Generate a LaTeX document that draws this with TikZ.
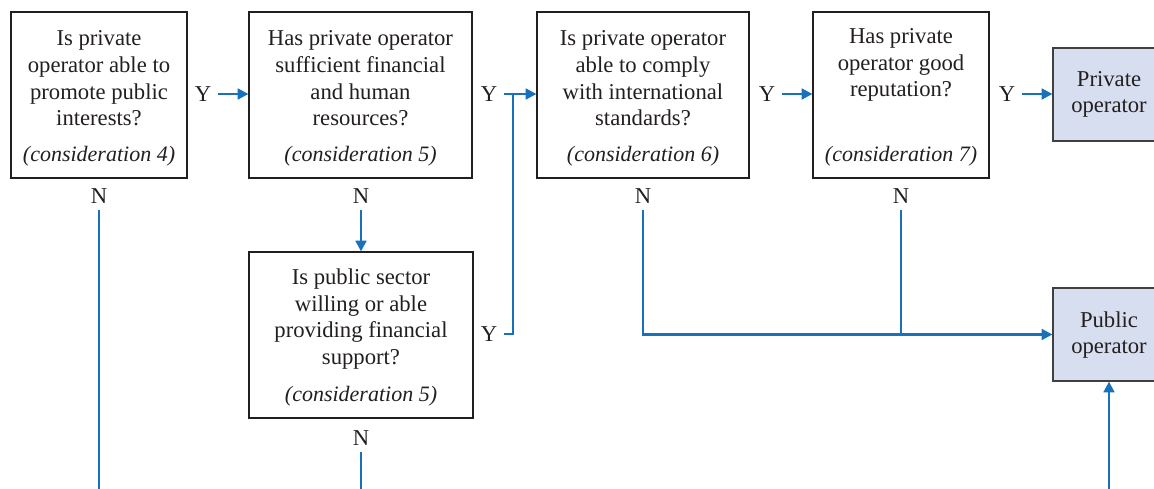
\documentclass[tikz,border=0pt]{standalone}
\usepackage{fontspec}
\setmainfont{Liberation Serif}
\usetikzlibrary{arrows.meta,calc}
\definecolor{flowblue}{RGB}{23,114,187}
\definecolor{opfill}{RGB}{214,222,239}
\definecolor{inkc}{RGB}{35,31,32}
\begin{document}
\begin{tikzpicture}[x=0.75pt,y=-0.75pt,
  qbox/.style={draw=inkc,line width=0.9pt,fill=white,inner sep=0,minimum height=124.5pt},
  opbox/.style={draw=black!75,line width=0.9pt,fill=opfill,inner sep=0,minimum width=84pt,minimum height=69.75pt},
  qtext/.style={text=inkc,font=\fontsize{17}{20}\selectfont,align=center,inner sep=0},
  ctext/.style={text=inkc,font=\fontsize{16.5}{20}\selectfont\itshape,inner sep=0},
  yn/.style={text=inkc,font=\fontsize{17}{20}\selectfont,inner sep=5pt},
  conn/.style={draw=flowblue,line width=1.9pt},
  arr/.style={conn,-{Triangle[length=8pt,width=8pt]}},
]
\useasboundingbox (0,0) rectangle (1154,489);

% question boxes
\node[qbox,minimum width=132pt] (b1) at (99,95) {};
\node[qbox,minimum width=167.25pt] (b2) at (360.5,95) {};
\node[qbox,minimum width=159pt] (b3) at (643,95) {};
\node[qbox,minimum width=132pt] (b4) at (901,95) {};
\node[qbox,minimum width=168pt] (b5) at (361,335) {};

% outcome boxes
\node[opbox] (priv) at (1109,94.5) {};
\node[opbox] (pub) at (1109,334.5) {};

% texts
\node[qtext] (t1) at (99,78.5) {Is private\\operator able to\\promote public\\interests?};
\node[qtext] (t2) at (360.5,78.5) {Has private operator\\sufficient financial\\and human\\resources?};
\node[qtext] (t3) at (643,78.5) {Is private operator\\able to comply\\with international\\standards?};
\node[qtext] (t4) at (901,65) {Has private\\operator good\\reputation?};
\node[qtext] (t5) at (361,319) {Is public sector\\willing or able\\providing financial\\support?};
\node[qtext] (tp) at (1109,94.5) {Private\\operator};
\node[qtext] (tq) at (1109,335) {Public\\operator};

\node[ctext] (c1) at (99,156) {(consideration 4)};
\node[ctext] (c2) at (360.5,156) {(consideration 5)};
\node[ctext] (c3) at (643,156) {(consideration 6)};
\node[ctext] (c4) at (901,156) {(consideration 7)};
\node[ctext] (c5) at (361,396) {(consideration 5)};

% Y / N labels
\node[yn] (y1) at (203,94) {Y};
\node[yn] (y2) at (489,94) {Y};
\node[yn] (y3) at (767,94) {Y};
\node[yn] (y4) at (1007,94) {Y};
\node[yn] (y5) at (489,334) {Y};
\node[yn] (n1) at (99,196) {N};
\node[yn] (n2) at (361,196) {N};
\node[yn] (n3) at (643,196) {N};
\node[yn] (n4) at (901,196) {N};
\node[yn] (n5) at (361,438) {N};

% free ends
\coordinate (j) at (513,94);
\coordinate (e1) at (99,495);
\coordinate (e5) at (361,495);
\coordinate (e6) at (1109,495);

% connectors
\draw[arr] (y1.east) -- (y1.east -| b2.west);
\draw[arr] (y2.east) -- (y2.east -| b3.west);
\draw[arr] (y3.east) -- (y3.east -| b4.west);
\draw[arr] (y4.east) -- (y4.east -| priv.west);
\draw[conn] (y5.east) -| (j);
\draw[arr] (n2.south) -- (b5.north);
\draw[conn] (n1.south) -- (e1);
\draw[conn] (n5.south) -- (e5);
\draw[arr] (n3.south) |- (pub.west);
\draw[conn] (n4.south) -- (n4.south |- pub.west);
\draw[arr] (e6) -- (pub.south);
\end{tikzpicture}
\end{document}
